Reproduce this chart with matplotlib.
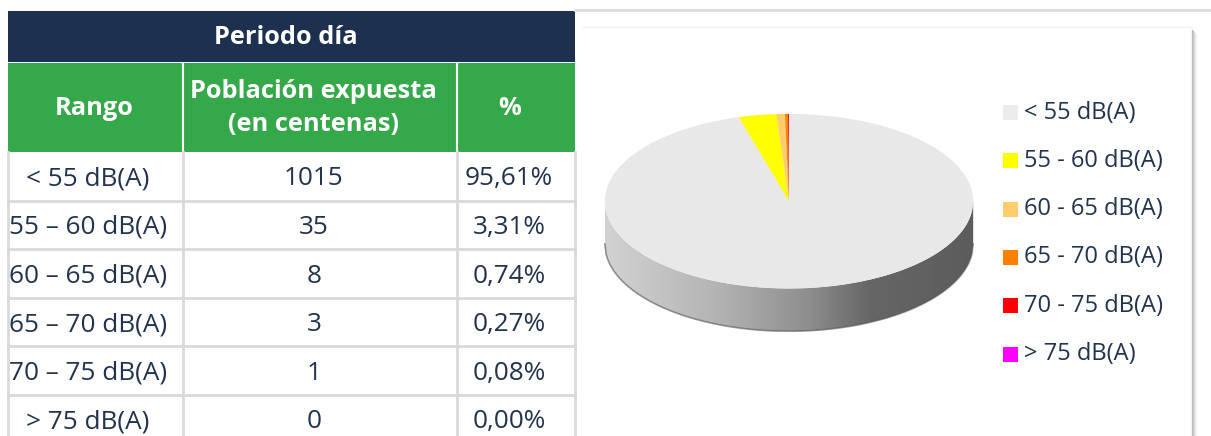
import numpy as np
import matplotlib as mpl
mpl.use('Agg')
import matplotlib.pyplot as plt
from matplotlib.patches import Rectangle, Polygon
from matplotlib.colors import LinearSegmentedColormap

plt.rcParams['font.family'] = ['Open Sans', 'DejaVu Sans']

# data
title = 'Periodo día'
col_headers = ['Rango', 'Población expuesta\n(en centenas)', '%']
ranges = ['< 55 dB(A)', '55 – 60 dB(A)', '60 – 65 dB(A)', '65 – 70 dB(A)',
          '70 – 75 dB(A)', '> 75 dB(A)']
population = [1015, 35, 8, 3, 1, 0]
percent = [95.61, 3.31, 0.74, 0.27, 0.08, 0.00]
legend_labels = ['< 55 dB(A)', '55 - 60 dB(A)', '60 - 65 dB(A)', '65 - 70 dB(A)',
                 '70 - 75 dB(A)', '> 75 dB(A)']
slice_colors = ['#e8e8e8', '#ffff00', '#ffcc6e', '#ff8000', '#ff0000', '#ff00ff']
legend_colors = ['#ececec', '#ffff00', '#ffcc6e', '#ff8000', '#ff0000', '#ff00ff']

W, H = 1211, 436
navy = '#1e3050'
green = '#35a84a'
grid = '#d9d9d9'
txt = '#22334f'

fig = plt.figure(figsize=(W / 100, H / 100), dpi=100)
ax = fig.add_axes([0, 0, 1, 1])
ax.set_xlim(0, W)
ax.set_ylim(H, 0)
ax.axis('off')

# ---- table ----
col_x = [8, 183, 457, 575]
head_x = [94, 313, 510]
text_x = [88, 314, 509]
row_h = 48.6
row_y = [152 + row_h * i for i in range(7)]

ax.add_patch(Rectangle((8, 11), 567, 51, color=navy, lw=0))
ax.text(286, 37, title, color='white', fontsize=18.3, fontweight='bold',
        ha='center', va='center')
ax.add_patch(Rectangle((8, 63), 567, 89, color=green, lw=0))
for x in col_x[1:-1]:
    ax.plot([x, x], [63, 152], color='white', lw=1.5)
for i, h in enumerate(col_headers):
    ax.text(head_x[i], 108, h, color='white', fontsize=18.3, fontweight='bold',
            ha='center', va='center', linespacing=1.4)

for x in col_x:
    ax.plot([x, x], [152, H], color=grid, lw=2)
for y in row_y[1:]:
    ax.plot([8, 575], [y, y], color=grid, lw=2)

for r, (rg, p, pc) in enumerate(zip(ranges, population, percent)):
    yc = row_y[r] + row_h / 2 + 2.5
    cells = [rg, str(p), ('%.2f%%' % pc).replace('.', ',')]
    for c in range(3):
        t = ax.text(text_x[c], yc, cells[c], color=txt, fontsize=18.8,
                    ha='center', va='center')
        clip = Rectangle((col_x[c] + 1, row_y[r]), col_x[c + 1] - col_x[c] - 2, row_h,
                         transform=ax.transData)
        t.set_clip_path(clip)

# ---- right panel ----
ax.plot([575, W], [10, 10], color='#dcdcdc', lw=2)
for k, a in enumerate([0.35, 0.25, 0.15, 0.08, 0.04]):
    ax.plot([1192 + k, 1192 + k], [30 + k, H], color='#555555', alpha=a, lw=1)
ax.plot([583, 1192], [27, 27], color='#f2f2f2', lw=1)

# ---- 3D pie ----
depth = 0.49
pax = fig.add_axes([603 / W, 1 - 333 / H, 372 / W, 220 / H])
pax.axis('off')

xs = np.linspace(-1, 1, 300)
front = -np.sqrt(1 - xs ** 2)
side = np.concatenate([np.column_stack([xs, front]),
                       np.column_stack([xs[::-1], front[::-1] - depth])])
side_patch = Polygon(side, closed=True, facecolor='none', edgecolor='none')
pax.add_patch(side_patch)
side_cmap = LinearSegmentedColormap.from_list(
    'side', [(0, '#d2d2d2'), (0.3, '#b4b4b4'), (0.55, '#8e8e8e'),
             (0.72, '#666666'), (1, '#5c5c5c')])
grad = np.linspace(0, 1, 256).reshape(1, -1)
im = pax.imshow(grad, extent=(-1, 1, -1 - depth, 0), cmap=side_cmap,
                aspect='auto', zorder=1)
im.set_clip_path(side_patch)
pax.plot(xs, front - depth, color='#555555', lw=1.2, alpha=0.6, zorder=2)

wedges, _ = pax.pie(percent, colors=slice_colors, startangle=90,
                    counterclock=False, radius=1,
                    wedgeprops=dict(linewidth=0))
for w in wedges:
    w.set_zorder(3)
pax.set_aspect('auto')
pax.set_xlim(-1.01, 1.01)
pax.set_ylim(-1 - depth - 0.02, 1.01)

# ---- legend ----
leg_y = [112.5 + 48.3 * i for i in range(len(legend_labels))]
for lab, col, y in zip(legend_labels, legend_colors, leg_y):
    ax.add_patch(Rectangle((1003, y - 7.5), 15, 15, color=col, lw=0))
    ax.text(1024, y, lab, color=txt, fontsize=17, ha='left', va='center')

fig.savefig('out.png', dpi=100)
